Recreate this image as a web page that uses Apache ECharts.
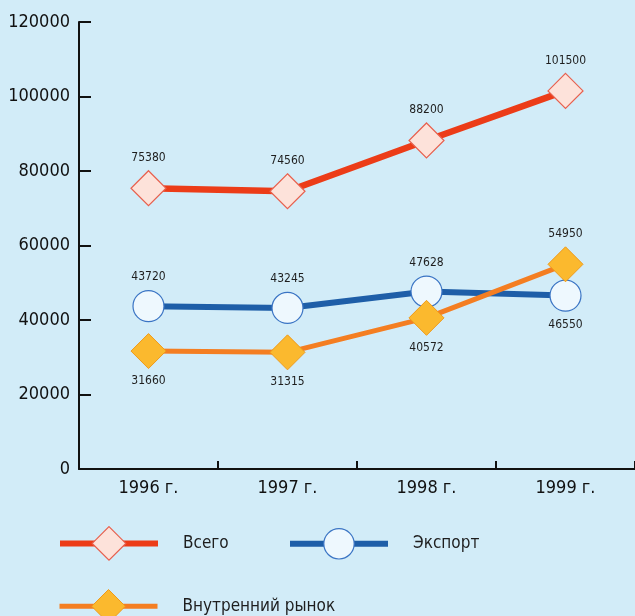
<!DOCTYPE html>
<html><head><meta charset="utf-8">
<script src="https://cdn.jsdelivr.net/npm/echarts@6/dist/echarts.min.js"></script>
<style>html,body{margin:0;padding:0;background:#d2ecf8;}#c{width:635px;height:616px;}</style>
</head><body><div id="c"></div>
<script>
var categories = ['1996 г.', '1997 г.', '1998 г.', '1999 г.'];
var seriesNames = ['Всего', 'Экспорт', 'Внутренний рынок'];
var totalValues = [75380, 74560, 88200, 101500];
var exportValues = [43720, 43245, 47628, 46550];
var domesticValues = [31660, 31315, 40572, 54950];
var exportLabelPos = ['top', 'top', 'top', 'bottom'];
var domesticLabelPos = ['bottom', 'bottom', 'bottom', 'top'];

var FONT = '"Liberation Sans Narrow", "DejaVu Sans Condensed", "Roboto", sans-serif';

function withPos(vals, pos) {
  return vals.map(function (v, i) { return { value: v, label: { position: pos[i] } }; });
}

var chart = echarts.init(document.getElementById('c'));
var labelStyle = { show: true, color: '#1e1e1e', fontSize: 12, fontFamily: FONT, distance: 6 };
var legendText = { fontSize: 17, color: '#1e1e1e', fontFamily: FONT, padding: [0, 0, 0, 20] };

chart.setOption({
  backgroundColor: '#d2ecf8',
  animation: false,
  textStyle: { fontFamily: FONT },
  grid: { left: 79, top: 22, width: 560, bottom: 147 },
  legend: [
    { data: [seriesNames[0]], left: 52, top: 521, itemWidth: 98, itemHeight: 42, itemGap: 0,
      lineStyle: { width: 6 }, itemStyle: { borderWidth: 1.2 }, textStyle: legendText },
    { data: [seriesNames[1]], left: 282, top: 523, itemWidth: 98, itemHeight: 38, itemGap: 0,
      lineStyle: { width: 6 }, itemStyle: { borderWidth: 1.2 }, textStyle: legendText },
    { data: [seriesNames[2]], left: 52, top: 584, itemWidth: 98, itemHeight: 42, itemGap: 0,
      lineStyle: { width: 5 }, itemStyle: { borderWidth: 1 }, textStyle: legendText }
  ],
  xAxis: {
    type: 'category', data: categories, boundaryGap: true,
    axisLine: { lineStyle: { color: '#111', width: 2 } },
    axisTick: { show: true, inside: true, length: 8, lineStyle: { color: '#111', width: 2 } },
    axisLabel: { fontSize: 18, color: '#111', margin: 10, fontFamily: FONT },
    splitLine: { show: false }
  },
  yAxis: {
    type: 'value', min: 0, max: 120000, interval: 20000,
    axisLine: { show: true, lineStyle: { color: '#111', width: 2 } },
    axisTick: { show: true, inside: true, length: 12, lineStyle: { color: '#111', width: 2 } },
    axisLabel: { fontSize: 18, color: '#111', margin: 9, fontFamily: FONT,
      formatter: function (v) { return String(v); } },
    splitLine: { show: false }
  },
  series: [
    { name: seriesNames[0], type: 'line', data: totalValues,
      symbol: 'diamond', symbolSize: 35,
      lineStyle: { color: '#ec3c18', width: 6.5 },
      itemStyle: { color: '#fde2da', borderColor: '#e8604e', borderWidth: 1.2 },
      label: Object.assign({}, labelStyle, { position: 'top' }), z: 3 },
    { name: seriesNames[1], type: 'line', data: withPos(exportValues, exportLabelPos),
      symbol: 'circle', symbolSize: 31,
      lineStyle: { color: '#1e5ea8', width: 6 },
      itemStyle: { color: '#eef8fe', borderColor: '#3a74c4', borderWidth: 1.2 },
      label: Object.assign({}, labelStyle, { distance: 7 }), z: 2 },
    { name: seriesNames[2], type: 'line', data: withPos(domesticValues, domesticLabelPos),
      symbol: 'diamond', symbolSize: 35,
      lineStyle: { color: '#f47e22', width: 5 },
      itemStyle: { color: '#fbb92e', borderColor: '#f09a1a', borderWidth: 1 },
      label: Object.assign({}, labelStyle), z: 4 }
  ]
});
</script></body></html>
